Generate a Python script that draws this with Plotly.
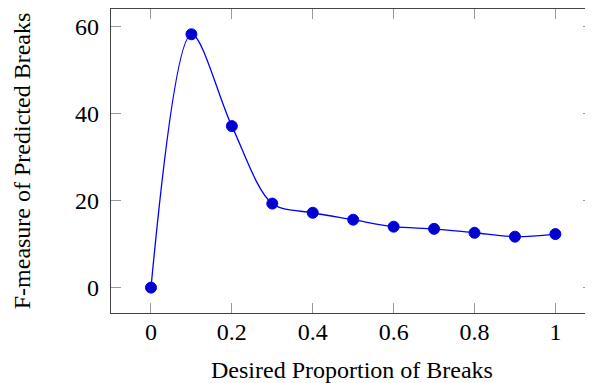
import plotly.graph_objects as go

proportion = [0.0, 0.1, 0.2, 0.3, 0.4, 0.5, 0.6, 0.7, 0.8, 0.9, 1.0]
fmeasure = [0.0, 58.2, 37.1, 19.3, 17.2, 15.6, 14.0, 13.5, 12.6, 11.7, 12.3]

x_ticks = [0, 0.2, 0.4, 0.6, 0.8, 1]
x_ticklabels = ["0", "0.2", "0.4", "0.6", "0.8", "1"]
y_ticks = [0, 20, 40, 60]
y_ticklabels = ["0", "20", "40", "60"]

font = "Liberation Serif"

fig = go.Figure()
fig.add_trace(go.Scatter(
    x=proportion, y=fmeasure, mode="lines+markers",
    line=dict(color="#0000FF", width=1.3, shape="spline", smoothing=0.9),
    marker=dict(size=11, color="#0000CC", line=dict(color="#0000FF", width=1)),
    showlegend=False,
))

fig.update_layout(
    width=585, height=375,
    margin=dict(l=103, r=0, t=1, b=70),
    paper_bgcolor="white", plot_bgcolor="white",
    font=dict(family=font, size=24, color="black"),
    xaxis=dict(
        range=[-0.0989, 1.093], tickvals=x_ticks, ticktext=x_ticklabels,
        showgrid=False, zeroline=False, showline=True, linecolor="#444", linewidth=1.2,
        mirror="all", ticks="inside", ticklen=10, tickcolor="#999", tickwidth=1,
        ticklabelstandoff=-3, automargin=False,
        title=dict(text="Desired Proportion of Breaks", standoff=17, font=dict(size=24)),
    ),
    yaxis=dict(
        range=[-5.83, 64.0], tickvals=y_ticks, ticktext=y_ticklabels,
        showgrid=False, zeroline=False, showline=True, linecolor="#444", linewidth=1.2,
        mirror="ticks", ticks="inside", ticklen=10, tickcolor="#999", tickwidth=1,
        ticklabelstandoff=6, automargin=False,
        title=dict(text="F-measure of Predicted Breaks", standoff=37, font=dict(size=24)),
    ),
)

fig.write_html("out.html")
